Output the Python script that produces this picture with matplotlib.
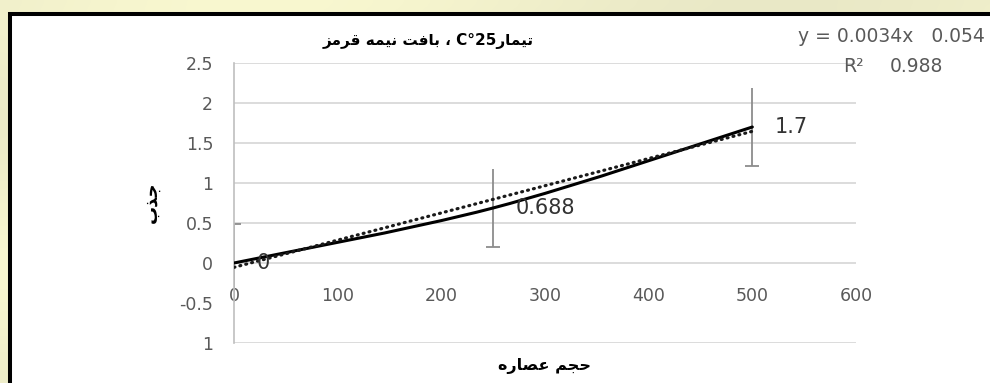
import numpy as np
import matplotlib
matplotlib.use("Agg")
import matplotlib.pyplot as plt
from matplotlib.path import Path
from matplotlib.patches import PathPatch, Rectangle

# ---- data ----
volume = [0, 250, 500]
absorbance = [0, 0.688, 1.7]
abs_err = [0.49, 0.49, 0.49]
cap_side = [1, -1, -1]          # which end of each error bar carries a cap
point_labels = ["0", "0.688", "1.7"]
trend_slope = 0.0034
trend_intercept = -0.054
x_ticks = [0, 100, 200, 300, 400, 500, 600]
y_ticks = [-1, -0.5, 0, 0.5, 1, 1.5, 2, 2.5]
y_tick_labels = ["1", "-0.5", "0", "0.5", "1", "1.5", "2", "2.5"]
grid_levels = [-1, 0, 0.5, 1, 1.5, 2, 2.5]
equation_text = "y = 0.0034x   0.054"
r2_name = "R\u00b2"
r2_value = "0.988"
title_tail = "بافت نیمه قرمز"
title_head = "تیمار"
title_temp = "C°25"
xlabel_text = "حجم عصاره"
ylabel_text = "جذب"

# ---- minimal Persian shaping (presentation forms, visual order) ----
JOIN = {
    "ا": ("\ufe8d", "\ufe8e"),
    "ذ": ("\ufeab", "\ufeac"),
    "ر": ("\ufead", "\ufeae"),
    "ز": ("\ufeaf", "\ufeb0"),
    "ب": ("\ufe8f", "\ufe90", "\ufe91", "\ufe92"),
    "ت": ("\ufe95", "\ufe96", "\ufe97", "\ufe98"),
    "ج": ("\ufe9d", "\ufe9e", "\ufe9f", "\ufea0"),
    "ح": ("\ufea1", "\ufea2", "\ufea3", "\ufea4"),
    "ص": ("\ufeb9", "\ufeba", "\ufebb", "\ufebc"),
    "ع": ("\ufec9", "\ufeca", "\ufecb", "\ufecc"),
    "ف": ("\ufed1", "\ufed2", "\ufed3", "\ufed4"),
    "ق": ("\ufed5", "\ufed6", "\ufed7", "\ufed8"),
    "م": ("\ufee1", "\ufee2", "\ufee3", "\ufee4"),
    "ن": ("\ufee5", "\ufee6", "\ufee7", "\ufee8"),
    "ه": ("\ufee9", "\ufeea", "\ufeeb", "\ufeec"),
    "ی": ("\ufeef", "\ufef0", "\ufef3", "\ufef4"),
}


def shape_word(word):
    out = []
    for i, ch in enumerate(word):
        forms = JOIN.get(ch)
        if forms is None:
            out.append(ch)
            continue
        prev = word[i - 1] if i > 0 else None
        nxt = word[i + 1] if i + 1 < len(word) else None
        from_prev = prev in JOIN and len(JOIN[prev]) == 4
        to_next = len(forms) == 4 and nxt in JOIN
        if from_prev and to_next:
            g = forms[3]
        elif from_prev:
            g = forms[1]
        elif to_next:
            g = forms[2]
        else:
            g = forms[0]
        out.append(g)
    return "".join(reversed(out))


def rtl(text):
    return " ".join(shape_word(w) for w in reversed(text.split(" ")))


W, H = 990, 383
fig = plt.figure(figsize=(W / 100, H / 100), dpi=100)

# soft yellow-green backdrop
bg = fig.add_axes([0, 0, 1, 1], zorder=-5)
yy, xx = np.mgrid[0:1:60j, 0:1:150j]
base = np.array([236, 235, 200]) / 255.0
var = 0.03 * np.sin(6 * xx + 2 * yy)[..., None] + 0.02 * np.cos(9 * yy)[..., None]
img = np.clip(base + var * np.array([1.0, 1.0, 0.6]), 0, 1)
bg.imshow(img, aspect="auto", extent=[0, 1, 0, 1], interpolation="bicubic")
bg.set_axis_off()

# white chart area with black frame
fig.patches.append(Rectangle((9.5 / W, -0.2), 1.2, 1.2 - 14 / H,
                             transform=fig.transFigure, facecolor="white",
                             edgecolor="black", linewidth=2.9, zorder=-4))

ax = fig.add_axes([234 / W, 1 - 343 / H, (856 - 234) / W, (343 - 63) / H])
ax.set_facecolor("none")
ax.set_xlim(0, 600)
ax.set_ylim(-1, 2.5)

tick_font = "DejaVu Sans"
grey = "#595959"

for lvl in grid_levels:
    ax.axhline(lvl, color="#d9d9d9", lw=1.3, zorder=0)

for s in ["top", "right"]:
    ax.spines[s].set_visible(False)
ax.spines["bottom"].set_position(("data", 0))
ax.spines["bottom"].set_visible(False)
ax.spines["left"].set_color("#bfbfbf")
ax.spines["left"].set_linewidth(1.2)

ax.set_xticks(x_ticks)
ax.set_xticklabels([str(v) for v in x_ticks], fontfamily=tick_font, fontsize=12.5, color=grey)
ax.set_yticks(y_ticks)
ax.set_yticklabels(y_tick_labels, fontfamily=tick_font, fontsize=12.5, color=grey)
ax.tick_params(axis="both", length=0)
ax.tick_params(axis="y", pad=15)
ax.tick_params(axis="x", pad=17)

# error bars (caps drawn separately)
ax.errorbar(volume, absorbance, yerr=abs_err, fmt="none", ecolor="#8c8c8c",
            elinewidth=1.3, capsize=0, zorder=2)
cap_y = [a + s * e for a, e, s in zip(absorbance, abs_err, cap_side)]
ax.plot(volume, cap_y, linestyle="none", marker="_", markersize=10,
        markeredgewidth=1.3, color="#8c8c8c", zorder=2)

# smoothed line through the points (cubic Bezier segments)
pts = np.array([volume, absorbance], dtype=float).T
n = len(pts)
verts = [tuple(pts[0])]
codes = [Path.MOVETO]
for i in range(n - 1):
    p_prev = pts[i - 1] if i > 0 else pts[i]
    p_next2 = pts[i + 2] if i + 2 < n else pts[i + 1]
    c1 = pts[i] + (pts[i + 1] - p_prev) / 6.0
    c2 = pts[i + 1] - (p_next2 - pts[i]) / 6.0
    verts += [tuple(c1), tuple(c2), tuple(pts[i + 1])]
    codes += [Path.CURVE4] * 3
ax.add_patch(PathPatch(Path(verts, codes), fill=False, edgecolor="black",
                       lw=2.2, zorder=3, capstyle="round"))

# linear trend line
tx = np.array([volume[0], volume[-1]], dtype=float)
ax.plot(tx, trend_slope * tx + trend_intercept, color="#1a1a1a", lw=2.3,
        linestyle=(0, (0.3, 1.6)), dash_capstyle="round", zorder=3)

# point labels
for xv, yv, lab in zip(volume, absorbance, point_labels):
    ax.annotate(lab, (xv, yv), xytext=(16, 0), textcoords="offset points",
                ha="left", va="center", fontsize=15, fontfamily=tick_font,
                color="#333333", zorder=4)

# trendline equation
fig.text(985 / W, 1 - 37 / H, equation_text, ha="right", va="center",
         fontsize=13.5, fontfamily=tick_font, color=grey)
fig.text(843 / W, 1 - 67 / H, r2_name, ha="left", va="center",
         fontsize=13.5, fontfamily=tick_font, color=grey)
fig.text(943 / W, 1 - 67 / H, r2_value, ha="right", va="center",
         fontsize=13.5, fontfamily=tick_font, color=grey)

# Persian title and axis titles
title_vis = rtl(title_tail) + " \u060c " + title_temp + shape_word(title_head)
fig.text(428 / W, 1 - 41 / H, title_vis, ha="center", va="center",
         fontsize=11, fontweight="bold", fontfamily="DejaVu Sans", color="black")
fig.text(545 / W, 1 - 366 / H, rtl(xlabel_text), ha="center", va="center",
         fontsize=11.5, fontweight="bold", fontfamily="DejaVu Sans", color="black")
fig.text(152 / W, 1 - 202 / H, rtl(ylabel_text), ha="center", va="center",
         rotation=90, fontsize=13, fontweight="bold", fontfamily="DejaVu Sans",
         color="black")

fig.savefig("out.png", dpi=100)
